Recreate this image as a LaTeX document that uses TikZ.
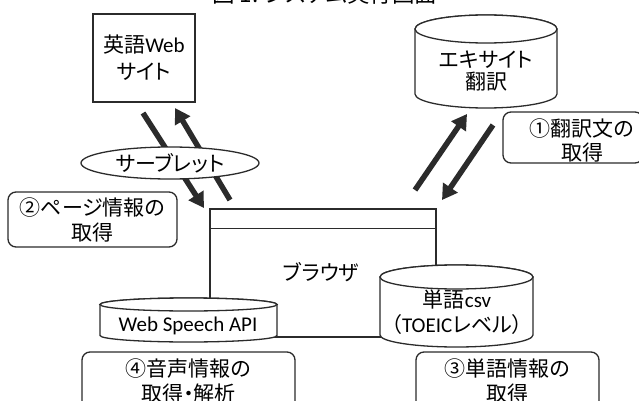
\documentclass[tikz,border=0pt]{standalone}
\usepackage{fontspec}
\setmainfont{Carlito}
\newfontfamily\jp[RawFeature=+palt]{Noto Sans CJK JP}
\usetikzlibrary{arrows.meta,shapes.geometric}
\definecolor{ln}{HTML}{2B2B2B}
\newcommand\mycyl[5]{% x1 x2 ytop ybottom ry
  \filldraw[cylst] (#1,#3+#5) -- (#1,#4-#5)
    arc[start angle=180,end angle=0,x radius={(#2-#1)/2},y radius=#5]
    -- (#2,#3+#5)
    arc[start angle=0,end angle=-180,x radius={(#2-#1)/2},y radius=#5] -- cycle;
  \draw[cylst] ({(#1+#2)/2},#3+#5) ellipse[x radius={(#2-#1)/2},y radius=#5];}
\tikzset{
  txt/.style={font=\fontsize{21}{25}\selectfont\jp, align=center, inner sep=0pt, text=black},
  cylst/.style={draw=ln, fill=white, line width=1.3pt},
  sqbox/.style={draw=ln, fill=white, line width=1.3pt, inner sep=0pt},
  rbox/.style={draw=ln, fill=white, line width=1.3pt, rounded corners=8pt, inner sep=0pt},
  bigarrow/.style={draw=ln, line width=5.5pt, -{Triangle[width=17pt,length=15pt]}},
}
\begin{document}
\begin{tikzpicture}[x=1pt,y=-1pt]
\useasboundingbox (0,0) rectangle (639,401);
% title (cut at top)
\node[font=\fontsize{22.5}{25}\selectfont\jp, inner sep=0pt, anchor=base west] (title) at (212,3) {図 1. システム実行画面};

% browser
\node[sqbox, minimum width=226pt, minimum height=128pt] (browser) at (323,273) {};
\draw[ln, line width=1.3pt] (browser.north west) ++(0,20) coordinate (hl) -- (hl -| browser.east);
\node[txt] (browsertxt) at (321,272) {ブラウザ};

% arrows (web side)
\coordinate (a1s) at (143,113); \coordinate (a1e) at (204,208);
\coordinate (a2s) at (230,200); \coordinate (a2e) at (175,108);
\draw[bigarrow] (a1s) -- (a1e);
\draw[bigarrow] (a2s) -- (a2e);

% web site
\node[sqbox, minimum width=102pt, minimum height=88pt, txt] (web) at (144,58)
  {英語{\fontspec{Carlito}Web}\\[2pt]サイト};

% servlet
\node[ellipse, draw=ln, fill=white, line width=1.3pt, minimum width=178pt, minimum height=32pt, txt] (servlet) at (170,163) {サーブレット};

% box 2
\node[rbox, minimum width=169pt, minimum height=55pt, txt] (b2) at (92.5,219.5) {②ページ情報の\\取得};

% excite
\mycyl{415}{557}{15}{108}{14}
\node[txt] (excite) at (486,71) {エキサイト\\[-3pt]翻訳};
\coordinate (a3s) at (415,190); \coordinate (a3e) at (467,114);
\coordinate (a4s) at (493,125); \coordinate (a4e) at (442,200);
\draw[bigarrow] (a3s) -- (a3e);
\draw[bigarrow] (a4s) -- (a4e);

% box 1
\node[rbox, minimum width=140pt, minimum height=51pt] (b1) at (573,137.5) {};
\node[txt] (b1txt) at (582,140) {①翻訳文の\\[-1pt]取得};

% web speech
\mycyl{100}{277}{298}{342}{6.5}
\node[font=\fontsize{21}{25}\selectfont, inner sep=0pt] (wsa) at (188,326) {Web Speech API};

% csv
\mycyl{380}{533}{265}{347}{12}
\node[txt] (csv) at (457,312) {単語{\fontspec{Carlito}csv}\\（{\fontspec{Carlito}TOEIC}レベル）};

% box 4 and 3
\node[rbox, minimum width=213pt, minimum height=58pt, txt] (b4) at (188.5,381) {④音声情報の\\取得・解析};
\node[rbox, minimum width=183pt, minimum height=58pt, txt] (b3) at (507.5,381) {③単語情報の\\取得};
\end{tikzpicture}
\end{document}
